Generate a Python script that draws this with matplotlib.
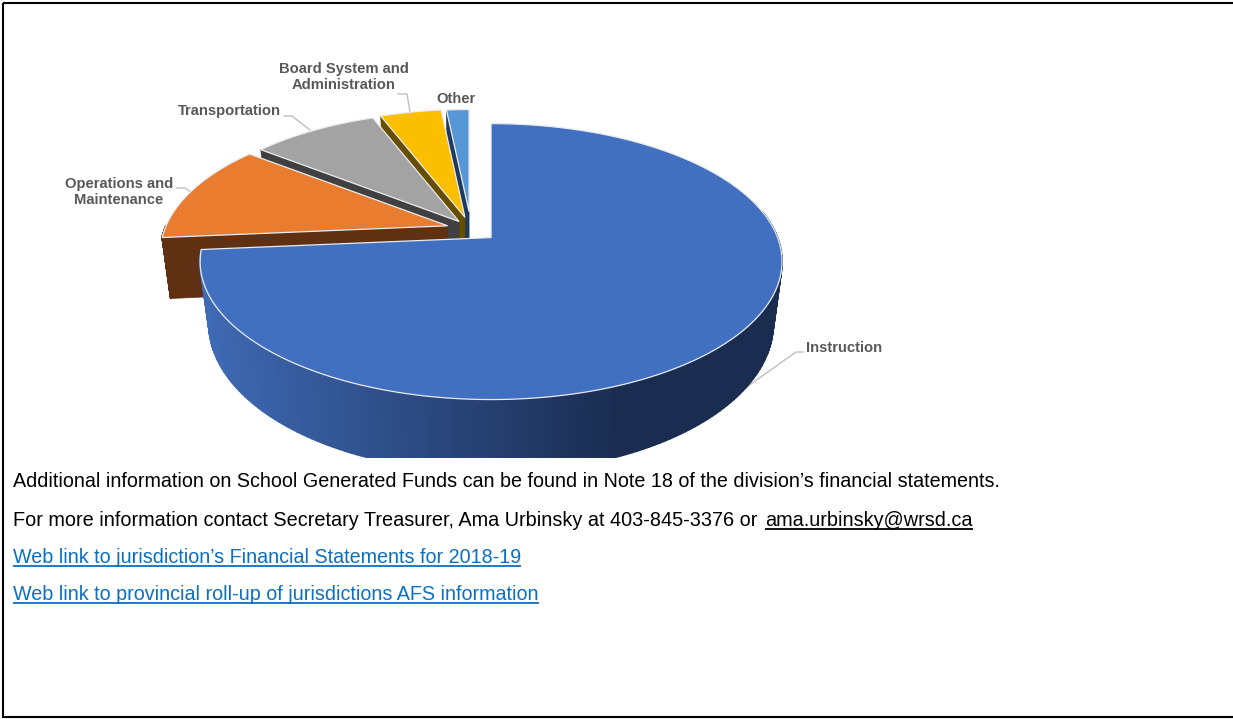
import numpy as np
import matplotlib
matplotlib.use("Agg")
import matplotlib.pyplot as plt
from matplotlib.patches import Polygon, Rectangle

plt.rcParams['font.family'] = ['Liberation Sans', 'DejaVu Sans']

# shares of spending, clockwise from 12 o'clock
categories = ["Instruction", "Operations and\nMaintenance", "Transportation",
              "Board System and\nAdministration", "Other"]
shares = [73.6, 11.9, 8.6, 4.25, 1.65]
explode = [0.095, 0.085, 0.07, 0.09, 0.13]
# the picture's perspective squeezes the outer arc of the small slices
rim_start = [1.0, 0.985, 0.966, 0.935, 0.88]
rim_end = [1.0, 0.965, 0.96, 0.937, 0.88]
top_colors = ["#4270c0", "#ea7c2f", "#a3a3a3", "#fcbf00", "#5897d5"]
side_colors = ["#1a2c50", "#5f3012", "#404040", "#664d00", "#1f3a5c"]

note_lines = ["Additional information on School Generated Funds can be found in Note 18 of the division\u2019s financial statements.",
              "For more information contact Secretary Treasurer, Ama Urbinsky at 403-845-3376 or "]
email = "ama.urbinsky@wrsd.ca"
links = ["Web link to jurisdiction\u2019s Financial Statements for 2018-19",
         "Web link to provincial roll-up of jurisdictions AFS information"]

# pie projection, in pixels
CX, CY = 471, 229
A, B, K = 286.5, 133.8, 0.174
DEPTH, SHRINK_X, STRETCH_Y = 60, 0.97, 1.08
CLIP_Y = 458


def proj(theta, apex, r=1.0):
    u = r * np.sin(theta)
    v = -r * np.cos(theta)
    w = 1 - K * v
    return apex[0] + A * u / w, apex[1] + B * v / w


def lower(pt, apex):
    return (apex[0] + (pt[0] - apex[0]) * SHRINK_X,
            apex[1] + (pt[1] - apex[1]) * STRETCH_Y + DEPTH)


def mix(c1, c2, t):
    c1 = np.array(matplotlib.colors.to_rgb(c1))
    c2 = np.array(matplotlib.colors.to_rgb(c2))
    return tuple(c1 + (c2 - c1) * t)


fig = plt.figure(figsize=(12.33, 7.19), dpi=100)
ax = fig.add_axes([0, 0, 1, 1])
ax.set_xlim(0, 1233)
ax.set_ylim(719, 0)
ax.axis("off")
clip = Rectangle((0, 0), 1233, CLIP_Y, transform=ax.transData)


def add(poly):
    ax.add_patch(poly)
    poly.set_clip_path(clip)


edges = np.radians(np.concatenate([[0], np.cumsum(shares) * 3.6]))
slices = []
for i in range(len(shares)):
    mid = (edges[i] + edges[i + 1]) / 2
    apex = (CX + explode[i] * A * np.sin(mid), CY - explode[i] * B * np.cos(mid))
    slices.append((i, edges[i], edges[i + 1], apex))

# back to front, the big slice goes last
for i, t0, t1, apex in [slices[4], slices[3], slices[2], slices[1], slices[0]]:
    def radius(t):
        return rim_start[i] + (rim_end[i] - rim_start[i]) * (t - t0) / (t1 - t0)

    # cut face on the leading edge
    rim = proj(t0, apex, radius(t0))
    face = [apex, rim, lower(rim, apex), lower(apex, apex)]
    add(Polygon(face, closed=True, fc=side_colors[i], ec=side_colors[i], lw=0.5, zorder=2))

    # outer wall, only the part facing the viewer
    lo, hi = max(t0, np.pi / 2 - 0.2), min(t1, 1.5 * np.pi)
    if hi > lo:
        ts = np.linspace(lo, hi, 160)
        for a, b in zip(ts[:-1], ts[1:]):
            p0, p1 = proj(a, apex, radius(a)), proj(b, apex, radius(b))
            x = (p0[0] + p1[0]) / 2
            col = side_colors[i]
            if i == 0:
                # wall shading runs dark on the right, lighter to the left
                t = np.clip((620 - x) / 420, 0, 1)
                col = mix("#1a2c50", "#3f6ab5", t)
            add(Polygon([p0, p1, lower(p1, apex), lower(p0, apex)], closed=True,
                        fc=col, ec=col, lw=1.2, zorder=2))

    # top
    ts = np.linspace(t0, t1, 200)
    pts = [apex] + [proj(t, apex, radius(t)) for t in ts]
    add(Polygon(pts, closed=True, fc=top_colors[i], ec="#e8ecf2", lw=0.9, zorder=3))

# labels and leaders
label_color = "#595959"
label_pos = [(806, 348, "left"), (119, 192, "center"), (229, 111, "center"),
             (344, 77, "center"), (456, 99, "center")]
leaders = [[(803, 352), (796, 352), (727, 401)],
           [(177, 188), (185, 188), (192, 193)],
           [(284, 116), (292, 116), (310, 130)],
           [(398, 94), (407, 94), (410, 112)]]
for name, (x, y, ha) in zip(categories, label_pos):
    ax.text(x, y, name, ha=ha, va="center", fontsize=10.6, fontweight="bold",
            color=label_color, linespacing=1.25, zorder=5)
for line in leaders:
    ax.plot(*zip(*line), color="#bfbfbf", lw=1, zorder=1)

# notes below the chart
FS = 14.21
renderer = fig.canvas.get_renderer()


def underlined(x, y, s, color, size=FS):
    t = ax.text(x, y, s, fontsize=size, color=color, va="baseline", ha="left")
    bb = t.get_window_extent(renderer)
    ax.plot([bb.x0, bb.x1], [y + 3, y + 3], color=color, lw=1.3, solid_capstyle="butt")


ax.text(13, 487, note_lines[0], fontsize=FS, color="black", va="baseline")
ax.text(13, 526, note_lines[1], fontsize=14.35, color="black", va="baseline")
underlined(765, 526, email, "black", 14.28)
underlined(13, 563, links[0], "#0c70c0")
underlined(13, 600, links[1], "#0c70c0")

# page frame
ax.add_patch(Rectangle((2.7, 3), 1240, 714, fc="none", ec="black", lw=1.5, zorder=6))

fig.savefig("out.png", dpi=100)
